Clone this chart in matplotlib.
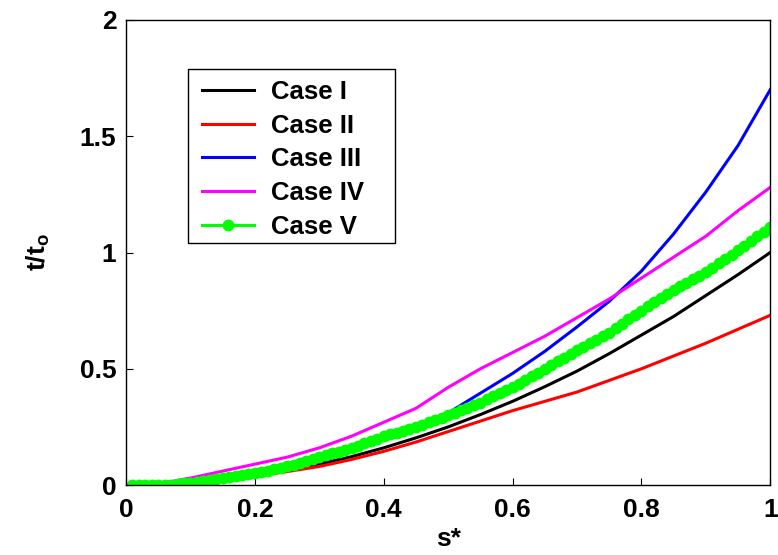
"""
Dimensionless time t/t_o versus s* for five cases.
Output: out.png
"""

import numpy as np
import matplotlib.pyplot as plt
from matplotlib.patches import Rectangle

# ── Data ──────────────────────────────────────────────────────────────────────
s_coarse = [0.01, 0.05, 0.10, 0.15, 0.20, 0.25, 0.30, 0.35, 0.40, 0.45, 0.50,
            0.55, 0.60, 0.65, 0.70, 0.75, 0.80, 0.85, 0.90, 0.95, 1.00]

case_1 = [0.0, 0.002, 0.010, 0.022, 0.040, 0.062, 0.090, 0.122, 0.160, 0.203, 0.250,
          0.303, 0.360, 0.423, 0.490, 0.565, 0.645, 0.725, 0.815, 0.905, 1.000]
case_2 = [0.0, 0.002, 0.010, 0.022, 0.038, 0.058, 0.080, 0.110, 0.145, 0.185, 0.230,
          0.275, 0.320, 0.360, 0.400, 0.450, 0.500, 0.555, 0.610, 0.670, 0.730]
case_3 = [0.0, 0.002, 0.010, 0.025, 0.045, 0.070, 0.100, 0.145, 0.195, 0.250, 0.310,
          0.395, 0.480, 0.575, 0.680, 0.790, 0.920, 1.080, 1.260, 1.460, 1.700]
case_4 = [0.0, 0.005, 0.030, 0.060, 0.090, 0.120, 0.160, 0.210, 0.270, 0.330, 0.420,
          0.500, 0.570, 0.640, 0.720, 0.800, 0.890, 0.980, 1.070, 1.180, 1.280]

s_fine = [round(0.01 * k, 2) for k in range(1, 101)]
case_5 = [0.0, 0.0, 0.0, 0.0, 0.0, 0.0, 0.0, 0.005, 0.008, 0.011,
          0.014, 0.017, 0.021, 0.025, 0.030, 0.034, 0.038, 0.042, 0.046, 0.050,
          0.056, 0.062, 0.068, 0.074, 0.080, 0.088, 0.095, 0.103, 0.111, 0.120,
          0.128, 0.136, 0.144, 0.152, 0.160, 0.170, 0.180, 0.190, 0.200, 0.210,
          0.218, 0.226, 0.234, 0.242, 0.250, 0.260, 0.270, 0.280, 0.290, 0.300,
          0.311, 0.322, 0.333, 0.344, 0.355, 0.368, 0.381, 0.394, 0.407, 0.420,
          0.436, 0.452, 0.468, 0.484, 0.500, 0.516, 0.532, 0.548, 0.564, 0.580,
          0.595, 0.610, 0.625, 0.640, 0.655, 0.674, 0.693, 0.712, 0.731, 0.750,
          0.768, 0.786, 0.804, 0.822, 0.840, 0.855, 0.870, 0.885, 0.900, 0.915,
          0.934, 0.953, 0.972, 0.991, 1.010, 1.030, 1.050, 1.070, 1.090, 1.110]

x_ticks = [0, 0.2, 0.4, 0.6, 0.8, 1]
x_tick_labels = ["0", "0.2", "0.4", "0.6", "0.8", "1"]
y_ticks = [0, 0.5, 1, 1.5, 2]
y_tick_labels = ["0", "0.5", "1", "1.5", "2"]

plt.rcParams["font.family"] = ["Liberation Sans", "DejaVu Sans"]
plt.rcParams["font.weight"] = "bold"
plt.rcParams["mathtext.fontset"] = "custom"
plt.rcParams["mathtext.bf"] = "Liberation Sans:bold"

fig = plt.figure(figsize=(7.78, 5.55), dpi=100)
ax = fig.add_axes([0.162, 0.126, 0.828, 0.838])

ax.plot(s_coarse, case_1, color="black", lw=2.2, label="Case I")
ax.plot(s_coarse, case_2, color="red", lw=2.2, label="Case II")
ax.plot(s_coarse, case_3, color="blue", lw=2.2, label="Case III")
ax.plot(s_coarse, case_4, color="magenta", lw=2.2, label="Case IV")
ax.plot(s_fine, case_5, color="#00ff00", lw=2.2, marker="o", markersize=7.5,
        label="Case V")

ax.set_xlim(0, 1)
ax.set_ylim(0, 2)
ax.set_xticks(x_ticks)
ax.set_xticklabels(x_tick_labels, fontsize=19, fontweight="bold")
ax.set_yticks(y_ticks)
ax.set_yticklabels(y_tick_labels, fontsize=19, fontweight="bold")
ax.tick_params(axis="x", direction="in", length=5, width=0.8, pad=9)
ax.tick_params(axis="y", direction="in", length=5, width=0.8, pad=7)
for sp in ax.spines.values():
    sp.set_linewidth(1.0)

ax.set_xlabel("s*", fontsize=19, fontweight="bold", labelpad=4)
ax.set_ylabel(r"t/t$_\mathbf{o}$", fontsize=19, fontweight="bold", labelpad=20)

# legend (MATLAB-style box drawn separately)
ax.add_patch(Rectangle((0.096, 0.52), 0.322, 0.375, transform=ax.transAxes,
                       facecolor="white", edgecolor="black", lw=1.0, zorder=4.5))
leg = ax.legend(loc="upper left", bbox_to_anchor=(0.104, 0.891), borderaxespad=0,
                frameon=False, prop={"size": 18.5, "weight": "bold"},
                handlelength=2.0, handletextpad=0.66, labelspacing=0.38,
                borderpad=0.36)
leg.set_zorder(5)

fig.savefig("out.png", dpi=100)
